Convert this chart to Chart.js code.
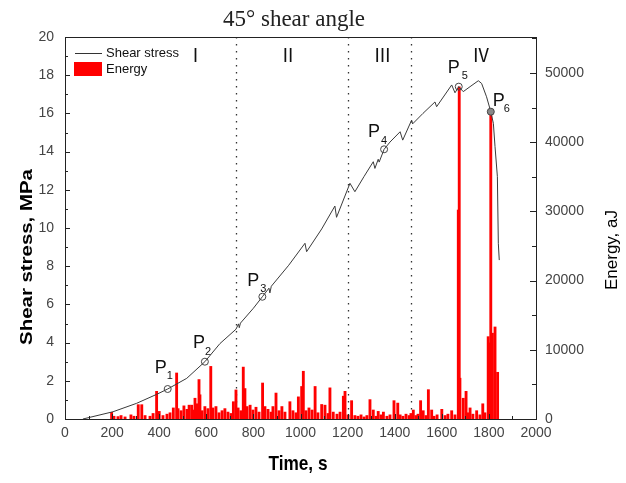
<!DOCTYPE html>
<html>
<head>
<meta charset="utf-8">
<script src="https://cdn.jsdelivr.net/npm/chart.js@4.4.1/dist/chart.umd.min.js"></script>
<style>
  html, body { margin: 0; padding: 0; background: #fff; }
</style>
</head>
<body>
<canvas id="c" width="626" height="483"></canvas>
<script>
// ---- Shear stress curve (s, MPa) ----
const stressTime = [76, 204, 304, 389, 436, 517, 594, 658, 726, 737, 740, 745, 800, 838, 866, 870, 876, 950,
  1019, 1026, 1090, 1146, 1153, 1210, 1231, 1270, 1309, 1316, 1330, 1334, 1355, 1380, 1423, 1434, 1472, 1476,
  1520, 1571, 1578, 1642, 1656, 1672, 1691, 1720, 1755, 1769, 1790, 1808, 1819, 1826, 1836, 1840, 1844];
const stressMPa = [0, 0.38, 0.82, 1.29, 1.57, 2.13, 3.0, 3.95, 4.7, 4.98, 4.78, 5.02, 5.8, 6.4, 6.85, 6.6, 6.95, 8.05,
  9.2, 8.76, 9.95, 11.15, 10.56, 12.34, 11.9, 12.7, 13.47, 13.12, 13.6, 13.45, 14.12, 14.5, 15.04, 14.6, 15.65, 15.45,
  16.0, 16.6, 16.35, 17.49, 17.08, 17.4, 17.14, 17.4, 17.71, 17.57, 16.87, 16.09, 15.48, 14.26, 12.69, 9.2, 8.32];

// ---- Energy events (s, aJ) ----
const energyTime = [198, 208, 225, 238, 255, 280, 293, 311, 326, 340, 361, 374, 389, 400, 416, 433, 446, 460, 474, 480,
  493, 505, 518, 527, 538, 544, 552, 561, 569, 573, 582, 594, 607, 619, 628, 641, 654, 667, 679, 692,
  705, 715, 726, 735, 747, 757, 764, 773, 786, 798, 811, 824, 839, 849, 862, 875, 883, 896, 909, 921,
  934, 955, 968, 981, 991, 1005, 1012, 1023, 1036, 1049, 1062, 1074, 1090, 1104, 1117, 1125, 1139, 1155, 1168, 1182,
  1189, 1202, 1217, 1231, 1244, 1257, 1270, 1282, 1295, 1309, 1321, 1330, 1342, 1352, 1367, 1380, 1397, 1413, 1423, 1435,
  1448, 1461, 1469, 1479, 1490, 1499, 1510, 1521, 1533, 1543, 1557, 1567, 1580, 1600, 1614, 1626, 1642, 1656, 1670, 1674,
  1677, 1691, 1703, 1711, 1720, 1732, 1748, 1762, 1774, 1783, 1797, 1803, 1808, 1815, 1826, 1837];
const energyAJ = [960, 400, 350, 500, 300, 600, 400, 2070, 2070, 500, 400, 800, 4000, 1100, 500, 700, 900, 1600, 6650, 1500,
  1200, 1900, 1400, 2000, 2000, 1300, 3000, 2200, 5700, 3500, 1200, 1800, 1500, 7600, 1600, 1800, 900, 1200, 1500, 1000,
  800, 2500, 4200, 1600, 1200, 7500, 4400, 1800, 2000, 1300, 1700, 1000, 5200, 1800, 1400, 1000, 1800, 3750, 1200, 1800,
  1000, 2500, 1200, 900, 3200, 4700, 6900, 1200, 1600, 1300, 4700, 900, 2100, 2000, 800, 4500, 1000, 700, 1000, 3300,
  4000, 600, 2650, 500, 400, 600, 300, 500, 2800, 1300, 400, 1100, 600, 1000, 400, 600, 2650, 2300, 600, 400,
  700, 500, 800, 1300, 500, 700, 2650, 1200, 500, 4240, 1300, 400, 600, 1400, 500, 700, 1200, 600, 30200, 48000,
  5900, 3000, 4000, 900, 1600, 700, 1200, 600, 2200, 900, 11900, 11000, 44400, 12400, 13300, 6750];

// ---- Marked points P1..P6 ----
const pointNames = ['1', '2', '3', '4', '5', '6'];
const pointTime = [436, 594, 838, 1355, 1672, 1808];
const pointStress = [1.57, 3.0, 6.4, 14.12, 17.4, 16.09];

// ---- Stages ----
const stageBounds = [726, 1203, 1469];
const stageNames = ['Ⅰ', 'Ⅱ', 'Ⅲ', 'Ⅳ'];
const stageMid = [554, 947, 1348, 1766];

// ---- Axis ticks ----
const timeTicks = [0, 200, 400, 600, 800, 1000, 1200, 1400, 1600, 1800, 2000];
const stressTicks = [0, 2, 4, 6, 8, 10, 12, 14, 16, 18, 20];
const energyTicks = [0, 10000, 20000, 30000, 40000, 50000];

const TICK_FONT = { family: 'Liberation Sans, Arial', size: 14 };
const TICK_COLOR = '#444';
const plainNum = v => String(v);

// label offsets (px) for P marks: [P dx, P dy, sub dx, sub dy]
const pLabelOffset = [[-13, -16, -1, -10], [-12, -14, 0, -7], [-15, -11, -2, -5], [-16, -12, -3, -5], [-11, -14, 3, -8], [2, -6, 13, 0]];

const overlay = {
  id: 'overlay',
  beforeDatasetsDraw(chart) {
    const { ctx, chartArea: a, scales } = chart;
    ctx.save();
    ctx.strokeStyle = '#333';
    ctx.lineWidth = 1.3;
    ctx.setLineDash([1.5, 5.5]);
    stageBounds.forEach(t => {
      const x = Math.round(scales.x.getPixelForValue(t)) + 0.5;
      ctx.beginPath(); ctx.moveTo(x, a.top); ctx.lineTo(x, a.bottom); ctx.stroke();
    });
    ctx.restore();
  },
  afterDraw(chart) {
    const { ctx, chartArea: a, scales } = chart;
    const sx = scales.x, sy = scales.y, sy2 = scales.y2;
    ctx.save();

    // frame
    ctx.strokeStyle = '#222';
    ctx.lineWidth = 1;
    ctx.strokeRect(a.left + 0.5, a.top + 0.5, a.right - a.left, a.bottom - a.top);

    // inward tick marks
    ctx.beginPath();
    for (let t = 0; t <= 2000; t += 100) {
      const x = Math.round(sx.getPixelForValue(t)) + 0.5;
      const len = t % 200 === 0 ? 5 : 3;
      ctx.moveTo(x, a.bottom); ctx.lineTo(x, a.bottom - len);
    }
    for (let s = 0; s <= 20; s += 1) {
      const y = Math.round(sy.getPixelForValue(s)) + 0.5;
      const len = s % 2 === 0 ? 5 : 3;
      ctx.moveTo(a.left, y); ctx.lineTo(a.left + len, y);
    }
    for (let e = 0; e <= 55000; e += 5000) {
      const y = Math.round(sy2.getPixelForValue(e)) + 0.5;
      const len = e % 10000 === 0 ? 6 : 4;
      ctx.moveTo(a.right, y); ctx.lineTo(a.right - len, y);
    }
    ctx.stroke();

    // title
    ctx.fillStyle = '#222';
    ctx.font = '23px "Liberation Serif", serif';
    ctx.textAlign = 'center';
    ctx.textBaseline = 'alphabetic';
    ctx.fillText('45° shear angle', 294, 26);

    // legend
    ctx.strokeStyle = '#333';
    ctx.beginPath(); ctx.moveTo(75, 53.5); ctx.lineTo(102, 53.5); ctx.stroke();
    ctx.fillStyle = '#ff0000';
    ctx.fillRect(74, 62, 28, 14);
    ctx.fillStyle = '#111';
    ctx.font = '13px "Liberation Sans", Arial';
    ctx.textAlign = 'left';
    ctx.textBaseline = 'middle';
    ctx.fillText('Shear stress', 106, 53);
    ctx.fillText('Energy', 106, 69);

    // stage numerals
    ctx.font = '18px "Noto Sans CJK SC"';
    ctx.textAlign = 'center';
    stageNames.forEach((n, i) => ctx.fillText(n, sx.getPixelForValue(stageMid[i]), 55));

    // P labels
    ctx.textAlign = 'left';
    ctx.textBaseline = 'alphabetic';
    pointNames.forEach((n, i) => {
      const px = sx.getPixelForValue(pointTime[i]);
      const py = sy.getPixelForValue(pointStress[i]);
      const o = pLabelOffset[i];
      ctx.font = '18px "Liberation Sans", Arial';
      ctx.fillText('P', px + o[0], py + o[1]);
      ctx.font = '11px "Liberation Sans", Arial';
      ctx.fillText(n, px + o[2], py + o[3]);
    });

    // axis titles
    ctx.textAlign = 'center';
    ctx.textBaseline = 'middle';
    ctx.fillStyle = '#000';
    ctx.save();
    ctx.translate(298, 464);
    ctx.scale(0.82, 1);
    ctx.font = 'bold 21px "Liberation Sans", Arial';
    ctx.fillText('Time, s', 0, 0);
    ctx.restore();

    ctx.save();
    ctx.translate(27, 257);
    ctx.rotate(-Math.PI / 2);
    ctx.scale(1.2, 1);
    ctx.font = 'bold 17px "Liberation Sans", Arial';
    ctx.fillText('Shear stress, MPa', 0, 0);
    ctx.restore();

    ctx.save();
    ctx.translate(612, 250);
    ctx.rotate(-Math.PI / 2);
    ctx.font = '17px "Liberation Sans", Arial';
    ctx.fillText('Energy, aJ', 0, 0);
    ctx.restore();

    ctx.restore();
  }
};

new Chart(document.getElementById('c'), {
  type: 'bar',
  data: {
    datasets: [
      {
        type: 'line',
        label: 'P points',
        data: pointTime.map((t, i) => ({ x: t, y: pointStress[i] })),
        yAxisID: 'y',
        showLine: false,
        pointRadius: 3.5,
        pointBorderWidth: 1,
        pointBorderColor: '#444',
        pointBackgroundColor: ['rgba(0,0,0,0)', 'rgba(0,0,0,0)', 'rgba(0,0,0,0)', 'rgba(0,0,0,0)', 'rgba(0,0,0,0)', '#888'],
        order: 0
      },
      {
        type: 'line',
        label: 'Shear stress',
        data: stressTime.map((t, i) => ({ x: t, y: stressMPa[i] })),
        yAxisID: 'y',
        borderColor: '#3a3a3a',
        borderWidth: 1,
        pointRadius: 0,
        tension: 0,
        order: 1
      },
      {
        type: 'bar',
        label: 'Energy',
        data: energyTime.map((t, i) => ({ x: t, y: energyAJ[i] })),
        yAxisID: 'y2',
        backgroundColor: '#ff0000',
        barThickness: 2.2,
        order: 2
      }
    ]
  },
  options: {
    responsive: false,
    animation: false,
    layout: { padding: { top: 37, left: 0, right: 0, bottom: 0 } },
    plugins: { legend: { display: false }, tooltip: { enabled: false } },
    scales: {
      x: {
        type: 'linear', min: 0, max: 2000, offset: false,
        grid: { display: false, drawTicks: false }, border: { display: false },
        afterBuildTicks: s => { s.ticks = timeTicks.map(v => ({ value: v })); },
        ticks: { font: TICK_FONT, color: TICK_COLOR, padding: 6, maxRotation: 0, autoSkip: false, callback: plainNum },
        afterFit: s => { s.height = 64; }
      },
      y: {
        position: 'left', min: 0, max: 20,
        grid: { display: false, drawTicks: false }, border: { display: false },
        afterBuildTicks: s => { s.ticks = stressTicks.map(v => ({ value: v })); },
        ticks: { font: TICK_FONT, color: TICK_COLOR, padding: 11, callback: plainNum },
        afterFit: s => { s.width = 65; }
      },
      y2: {
        position: 'right', min: 0, max: 55200,
        grid: { display: false, drawTicks: false }, border: { display: false },
        afterBuildTicks: s => { s.ticks = energyTicks.map(v => ({ value: v })); },
        ticks: { font: TICK_FONT, color: TICK_COLOR, padding: 9, callback: plainNum },
        afterFit: s => { s.width = 90; }
      }
    }
  },
  plugins: [overlay]
});
</script>
</body>
</html>
